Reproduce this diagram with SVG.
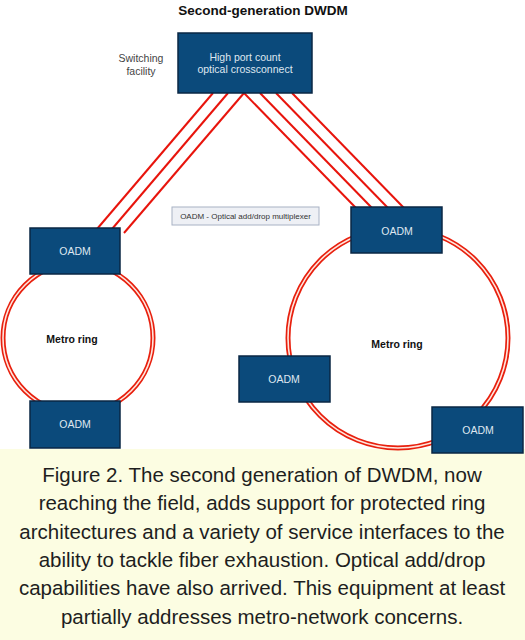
<svg xmlns="http://www.w3.org/2000/svg" width="525" height="640" viewBox="0 0 525 640">
<style>
.box{fill:#0b4a7b;stroke:#0a2744;stroke-width:1.5}
.lbl{font-family:"Liberation Sans",Arial,sans-serif;font-size:10.5px;fill:#dfe7f0;text-anchor:middle}
.ring{font-family:"Liberation Sans",Arial,sans-serif;font-size:10.5px;font-weight:bold;fill:#111;text-anchor:middle}
.fiber{stroke:#e8140c;stroke-width:2;fill:none}
.ringo{stroke:#e8200e;stroke-width:5;fill:none}
.ringi{stroke:#ffe6de;stroke-width:1.6;fill:none}
.cap{font-family:"Liberation Sans",Arial,sans-serif;font-size:20.5px;fill:#1e1e1e;text-anchor:middle}
</style>
<rect x="0" y="0" width="525" height="640" fill="#ffffff"/>
<rect x="0" y="449" width="525" height="191" fill="#fcfde2"/>
<text x="263" y="15" font-family="'Liberation Sans',Arial,sans-serif" font-size="13.5" font-weight="bold" fill="#111" text-anchor="middle">Second-generation DWDM</text>
<g id="connectors">
<line class="fiber" x1="213" y1="93" x2="97" y2="229"/>
<line class="fiber" x1="228" y1="93" x2="112" y2="229"/>
<line class="fiber" x1="244" y1="93" x2="124" y2="233"/>
<line class="fiber" x1="244" y1="93" x2="356" y2="208"/>
<line class="fiber" x1="260" y1="93" x2="372" y2="208"/>
<line class="fiber" x1="276" y1="93" x2="388" y2="208"/>
<line class="fiber" x1="292" y1="93" x2="404" y2="208"/>
</g>
<g id="ring-left">
<circle class="ringo" cx="78" cy="338" r="75"/>
<circle class="ringi" cx="78" cy="338" r="75"/>
<text class="ring" x="72" y="343">Metro ring</text>
</g>
<g id="ring-right">
<circle class="ringo" cx="398" cy="338" r="110"/>
<circle class="ringi" cx="398" cy="338" r="110"/>
<text class="ring" x="397" y="348">Metro ring</text>
</g>
<g id="switching-label">
<text x="141" y="62" font-family="'Liberation Sans',Arial,sans-serif" font-size="10.5" fill="#444" text-anchor="middle">Switching</text>
<text x="141" y="75" font-family="'Liberation Sans',Arial,sans-serif" font-size="10.5" fill="#444" text-anchor="middle">facility</text>
</g>
<g id="crossconnect">
<rect class="box" x="178" y="33" width="134" height="60"/>
<text class="lbl" x="245" y="61">High port count</text>
<text class="lbl" x="245" y="73">optical crossconnect</text>
</g>
<g id="legend">
<rect x="172" y="207" width="147" height="18" fill="#eef0f5" stroke="#a8b2c4" stroke-width="1"/>
<text x="245.5" y="219" font-family="'Liberation Sans',Arial,sans-serif" font-size="8" fill="#333" text-anchor="middle">OADM - Optical add/drop multiplexer</text>
</g>
<g id="oadm-left-top">
<rect class="box" x="30" y="228" width="90" height="46"/>
<text class="lbl" x="75" y="255">OADM</text>
</g>
<g id="oadm-left-bottom">
<rect class="box" x="30" y="401" width="90" height="47"/>
<text class="lbl" x="75" y="428">OADM</text>
</g>
<g id="oadm-right-top">
<rect class="box" x="351" y="207" width="91" height="46"/>
<text class="lbl" x="397" y="235">OADM</text>
</g>
<g id="oadm-right-left">
<rect class="box" x="239" y="356" width="91" height="46"/>
<text class="lbl" x="284" y="383">OADM</text>
</g>
<g id="oadm-right-bottom">
<rect class="box" x="432" y="407" width="91" height="46"/>
<text class="lbl" x="478" y="434">OADM</text>
</g>
<g id="caption">
<text class="cap" x="262" y="482">Figure 2. The second generation of DWDM, now</text>
<text class="cap" x="262" y="510">reaching the field, adds support for protected ring</text>
<text class="cap" x="262" y="539">architectures and a variety of service interfaces to the</text>
<text class="cap" x="262" y="567">ability to tackle fiber exhaustion. Optical add/drop</text>
<text class="cap" x="262" y="595">capabilities have also arrived. This equipment at least</text>
<text class="cap" x="262" y="624">partially addresses metro-network concerns.</text>
</g>
</svg>
